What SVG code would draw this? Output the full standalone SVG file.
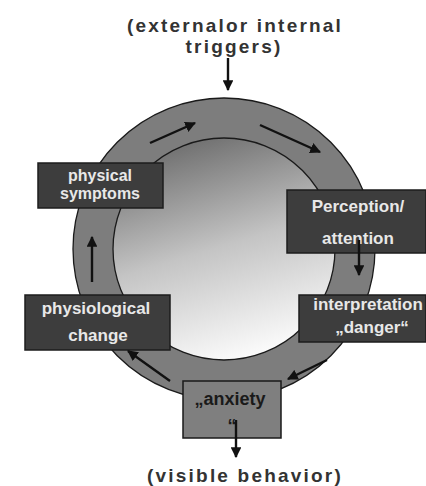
<svg xmlns="http://www.w3.org/2000/svg" width="426" height="486" viewBox="0 0 426 486">
<style>
.title{font-family:"Liberation Sans",Arial,sans-serif;font-weight:bold;font-size:19px;fill:#333;letter-spacing:2.2px;text-anchor:middle}
.box{fill:#3d3d3d;stroke:#1c1c1c;stroke-width:1.5}
.lbl{font-family:"Liberation Sans",Arial,sans-serif;font-weight:bold;font-size:17px;fill:#e8e8e8;text-anchor:middle}
.sm{font-size:16px}
.dlbl{font-family:"Liberation Sans",Arial,sans-serif;font-weight:bold;font-size:18px;fill:#1a1a1a;text-anchor:middle}
.arr{stroke:#111;stroke-width:2.4;fill:none;marker-end:url(#ah)}
</style>
<defs>
<marker id="ah" viewBox="0 0 10 10" refX="9" refY="5" markerWidth="4.5" markerHeight="4.5" orient="auto" markerUnits="strokeWidth">
<path d="M0,0 L10,5 L0,10 Z" fill="#111"/>
</marker>
<linearGradient id="g" x1="0.3" y1="0" x2="0.6" y2="1">
<stop offset="0" stop-color="#6c6c6c"/>
<stop offset="0.5" stop-color="#c4c4c4"/>
<stop offset="1" stop-color="#fcfcfc"/>
</linearGradient>
</defs>
<rect width="426" height="486" fill="#fff"/>
<g id="ring">
<circle cx="224" cy="249" r="151" fill="#7d7d7d" stroke="#1a1a1a" stroke-width="1.3"/>
<circle cx="224" cy="249" r="111" fill="url(#g)" stroke="#1a1a1a" stroke-width="1.3"/>
</g>
<g id="trigger">
<text class="title" x="235" y="32">(externalor internal</text>
<text class="title" x="234" y="53">triggers)</text>
</g>
<g id="behavior">
<text class="title" x="245" y="482">(visible behavior)</text>
</g>
<g id="physical-symptoms">
<rect class="box" x="38" y="163" width="125" height="45"/>
<text class="lbl sm" x="100" y="181">physical</text>
<text class="lbl sm" x="100" y="199">symptoms</text>
</g>
<g id="perception">
<rect class="box" x="287" y="190" width="139" height="63"/>
<text class="lbl" x="358" y="212">Perception/</text>
<text class="lbl" x="358" y="244">attention</text>
</g>
<g id="interpretation">
<rect class="box" x="299" y="295" width="127" height="47"/>
<text class="lbl" x="368" y="310">interpretation</text>
<text class="lbl" x="372" y="333">„danger“</text>
</g>
<g id="physiological-change">
<rect class="box" x="25" y="295" width="145" height="55"/>
<text class="lbl" x="96" y="314">physiological</text>
<text class="lbl" x="98" y="341">change</text>
</g>
<g id="anxiety">
<rect x="183" y="381" width="98" height="57" fill="#7f7f7f" stroke="#1a1a1a" stroke-width="1.5"/>
<text class="dlbl" x="230" y="405">„anxiety</text>
<text class="dlbl" x="232" y="432">“</text>
</g>
<g id="connectors">
<line class="arr" x1="228" y1="58" x2="228" y2="90"/>
<line class="arr" x1="150" y1="143" x2="195" y2="123"/>
<line class="arr" x1="260" y1="125" x2="320" y2="152"/>
<line class="arr" x1="359" y1="240" x2="359" y2="275"/>
<line class="arr" x1="327" y1="360" x2="288" y2="379"/>
<line class="arr" x1="170" y1="381" x2="128" y2="351"/>
<line class="arr" x1="92" y1="282" x2="92" y2="237"/>
<line class="arr" x1="236" y1="420" x2="236" y2="457"/>
</g>
</svg>
